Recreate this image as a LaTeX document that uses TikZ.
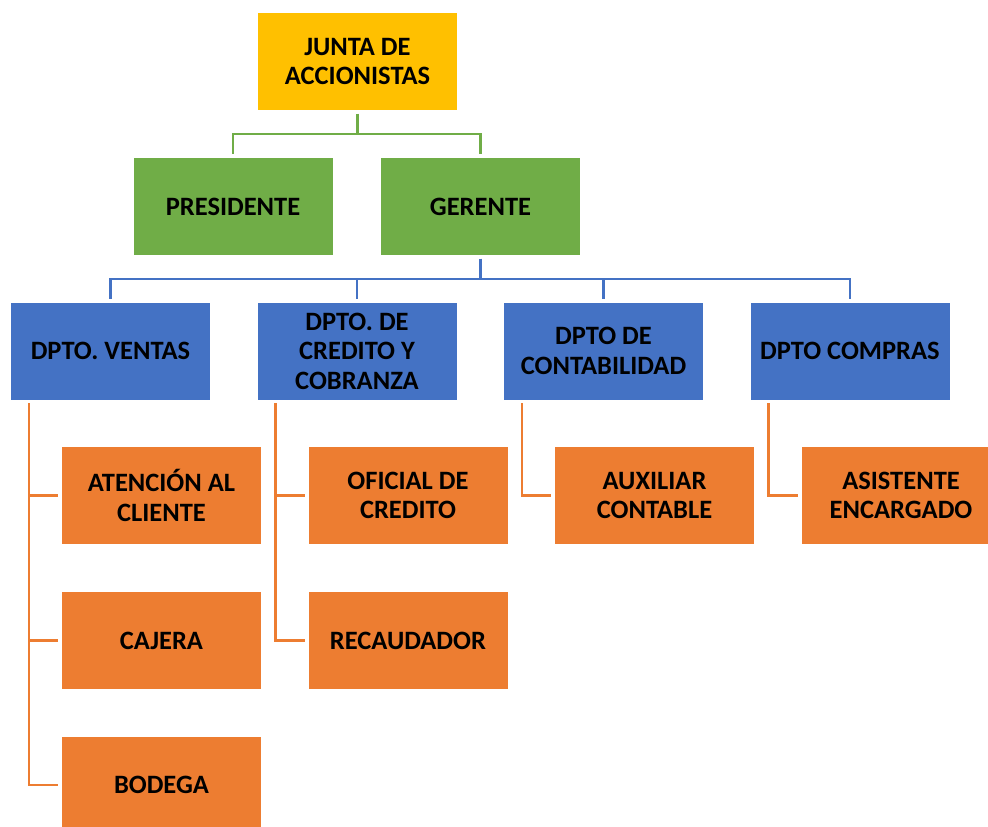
\documentclass[tikz,border=0pt]{standalone}
\usepackage{fontspec}
\setmainfont{Carlito}
\definecolor{cgold}{HTML}{FFC000}
\definecolor{cgreen}{HTML}{70AD47}
\definecolor{cblue}{HTML}{4472C4}
\definecolor{corange}{HTML}{ED7D31}
\tikzset{
  box/.style={minimum width=200pt, minimum height=98pt, inner sep=0pt, align=center,
    font=\fontsize{26.5}{29.5}\selectfont\bfseries, text=black, draw=white, line width=0.6pt},
  goldbox/.style={box, fill=cgold},
  greenbox/.style={box, fill=cgreen},
  bluebox/.style={box, fill=cblue},
  orangebox/.style={box, fill=corange},
  conn/.style={line width=2.5pt, shorten <=3pt, shorten >=3pt},
}
\begin{document}
\begin{tikzpicture}[x=1pt, y=-1pt]
\clip (0,0) rectangle (988,827);
\fill[white] (0,0) rectangle (988,827);
% nodes
\node[goldbox] (junta) at (357.5,61.5) {JUNTA DE\\ACCIONISTAS};
\node[greenbox] (pres) at (233,206.5) {PRESIDENTE};
\node[greenbox] (ger) at (480.5,206.5) {GERENTE};
\node[bluebox] (ventas) at (110.5,351) {DPTO. VENTAS};
\node[bluebox] (cred) at (357,351) {DPTO. DE\\CREDITO Y\\COBRANZA};
\node[bluebox] (conta) at (603.5,351) {DPTO DE\\CONTABILIDAD};
\node[bluebox] (comp) at (850,351) {DPTO COMPRAS};
\node[orangebox] (aten) at (161.5,495.5) {ATENCIÓN AL\\CLIENTE};
\node[orangebox] (caj) at (161.5,640.5) {CAJERA};
\node[orangebox] (bod) at (161.5,785) {BODEGA};
\node[orangebox] (ofi) at (408,495.5) {OFICIAL DE\\CREDITO};
\node[orangebox] (rec) at (408,640.5) {RECAUDADOR};
\node[orangebox] (aux) at (654.5,495.5) {AUXILIAR\\CONTABLE};
\node[orangebox] (asis) at (901,495.5) {ASISTENTE\\ENCARGADO};
% green connectors
\draw[conn, cgreen] (junta.south) -- ++(0,23) -| (pres.north);
\draw[conn, cgreen] (junta.south) -- ++(0,23) -| (ger.north);
% blue connectors
\foreach \n in {ventas,cred,conta,comp}
  \draw[conn, cblue] (ger.south) -- ++(0,23) -| (\n.north);
% orange connectors
\foreach \p/\c in {ventas/aten,ventas/caj,ventas/bod,cred/ofi,cred/rec,conta/aux,comp/asis}
  \draw[conn, corange] ([xshift=19pt]\p.south west) |- (\c.west);
\end{tikzpicture}
\end{document}
